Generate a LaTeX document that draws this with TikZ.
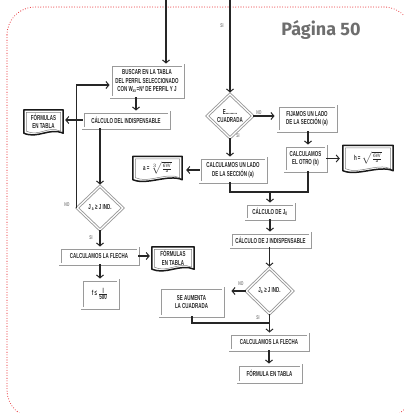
\documentclass[tikz,border=0pt]{standalone}
\usepackage{fontspec}
\usetikzlibrary{shapes.geometric,arrows.meta,calc}
\newfontfamily\cf{Liberation Sans Bold}[FakeStretch=0.62]
\newfontfamily\pf{Fira Sans}
\definecolor{dotred}{HTML}{E8353A}
\definecolor{boxgray}{HTML}{9A9A9A}
\definecolor{ink}{HTML}{262626}
\newcommand\docshape[1]{%
 \draw[docout] (#1.north west) -- (#1.north east) -- (#1.south east)
   .. controls +(-14,-6) and +(14,6) .. (#1.south west) -- cycle;
 \draw[docin] ([shift={(2.5,2.5)}]#1.north west) -- ([shift={(-2.5,2.5)}]#1.north east) -- ([shift={(-2.5,-2)}]#1.south east)
   .. controls +(-13,-6) and +(13,6) .. ([shift={(2.5,-2)}]#1.south west) -- cycle;}
\tikzset{
 box/.style={draw=boxgray, double=white, double distance=1.2pt, line width=0.9pt, inner sep=1pt, align=center,
   font=\cf\fontsize{7.2}{8.5}\selectfont, text=ink},
 dia/.style={box, diamond, inner sep=0pt},
 docn/.style={inner sep=1pt, align=center, font=\cf\fontsize{7.2}{8.5}\selectfont, text=ink},
 docout/.style={draw=black!90, line width=1.5pt, line join=round},
 docin/.style={draw=black!50, line width=0.5pt},
 arr/.style={draw=ink, line width=1.1pt, shorten >=1pt, -{Straight Barb[length=3pt,width=7pt,line width=1pt]}},
 conn/.style={draw=ink, line width=1.1pt},
 lbl/.style={font=\cf\fontsize{5.5}{5.5}\selectfont, text=black!50},
}
\begin{document}
\begin{tikzpicture}[x=1pt,y=-1pt]
\useasboundingbox (0,0) rectangle (404,413);
\clip (0,0) rectangle (404,413);
\draw[dotred, line width=1.1pt, dash pattern=on 0pt off 2.6pt, line cap=round, rounded corners=28pt] (7,7) rectangle (412,418);
\node[font=\pf\bfseries\fontsize{18}{18}\selectfont, text=black!57, anchor=base] (pg) at (321,35) {Página 50};
% left column
\node[box, minimum width=72pt, minimum height=32pt] (buscar) at (147,81) {BUSCAR EN LA TABLA\\DEL PERFIL SELECCIONADO\\CON W\textsubscript{xx}=Nº DE PERFIL Y J};
\node[box, minimum width=86pt, minimum height=16pt] (calcind) at (126,120) {CÁLCULO DEL INDISPENSABLE};
\node[docn, minimum width=39pt, minimum height=23pt] (form1) at (43.5,121.5) {FÓRMULAS\\EN TABLA};
\node[dia, minimum width=46pt, minimum height=44pt] (dL) at (100,208) {J\textsubscript{ a} ≥ J IND.};
\node[box, minimum width=78pt, minimum height=16pt] (flechaL) at (99,256) {CALCULAMOS LA FLECHA};
\node[docn, minimum width=42pt, minimum height=22pt] (form2) at (173,258) {FÓRMULAS\\EN TABLA};
\node[box, minimum width=36pt, minimum height=28pt] (fbox) at (100,294) {f ≤ $\frac{\hbox{\cf l}}{\hbox{\cf 500}}$};
% right column
\node[dia, minimum width=46pt, minimum height=44pt] (dE) at (230,116) {E.........\\CUADRADA};
\node[box, minimum width=58pt, minimum height=25pt] (fijamos) at (307,118.5) {FIJAMOS UN LADO\\DE LA SECCIÓN (a)};
\node[box, minimum width=41pt, minimum height=25pt] (otro) at (305.5,158.5) {CALCULAMOS\\EL OTRO (b)};
\node[docn, minimum width=50pt, minimum height=25pt] (hdoc) at (368,158) {h = $\sqrt{\frac{\mathsf{6W}}{\mathsf{a}}}$};
\node[box, minimum width=66pt, minimum height=24pt] (unlado) at (233,170) {CALCULAMOS UN LADO\\DE LA SECCIÓN (a)};
\node[docn, minimum width=49pt, minimum height=23pt] (adoc) at (157.5,168) {a = $\sqrt[3]{\frac{\mathsf{6W}}{\mathsf{a}}}$};
\node[box, minimum width=48pt, minimum height=15pt] (calcj0) at (270,211.5) {CÁLCULO DE J\textsubscript{0}};
\node[box, minimum width=79pt, minimum height=14pt] (calcjind) at (270.5,240) {CÁLCULO DE J INDISPENSABLE};
\node[dia, minimum width=47pt, minimum height=46pt] (dR) at (269.5,291) {J\textsubscript{a} ≥ J IND.};
\node[box, minimum width=63pt, minimum height=28pt] (aumenta) at (191.5,302) {SE AUMENTA\\LA CUADRADA};
\node[box, minimum width=78pt, minimum height=16pt] (flechaR) at (269,342) {CALCULAMOS LA FLECHA};
\node[box, minimum width=63pt, minimum height=17pt] (formtab) at (269.5,373.5) {FÓRMULA EN TABLA};
\docshape{form1}
\docshape{form2}
\docshape{hdoc}
\docshape{adoc}
% connectors
\coordinate (t1) at (166,0);
\coordinate (t2) at (230,0);
\coordinate (c136) at (136,0);
\coordinate (lp) at (0,85);
\coordinate (c308) at (308,0);
\coordinate (m) at (0,192);
\coordinate (c192) at (192,323);
\draw[arr] (t1) -- (t1 |- buscar.north);
\draw[arr] (t2) -- (dE.north);
\node[lbl] at (222,26) {SI};
\draw[arr] (c136 |- buscar.south) -- (c136 |- calcind.north);
\draw[arr, shorten >=2pt] (calcind.west) -- (calcind.west -| form1.east);
\draw[arr] (dL.north |- calcind.south) -- (dL.north);
\draw[arr] (dL.west) |- (lp -| buscar.west);
\node[lbl] at (67,205) {NO};
\draw[arr] (dL.south) -- (dL.south |- flechaL.north);
\node[lbl] at (91,238) {SI};
\draw[arr, shorten >=2pt] (flechaL.east) -- (flechaL.east -| form2.west);
\draw[arr] (fbox.north |- flechaL.south) -- (fbox.north);
\draw[arr, shorten >=3pt] (dE.east) -- (dE.east -| fijamos.west);
\node[lbl] at (259,113) {NO};
\draw[arr] (c308 |- fijamos.south) -- (c308 |- otro.north);
\draw[arr, shorten >=3pt] (otro.east) -- (otro.east -| hdoc.west);
\draw[arr] (dE.south) -- (dE.south |- unlado.north);
\node[lbl] at (238,136) {SI};
\draw[arr, shorten >=4pt] (unlado.west) -- (unlado.west -| adoc.east);
\draw[conn] (dE.south |- unlado.south) -- (dE.south |- m) -| (c308 |- otro.south);
\draw[arr] (calcj0.north |- m) -- (calcj0.north);
\draw[arr] (calcj0.south) -- (calcj0.south |- calcjind.north);
\draw[arr] (dR.north |- calcjind.south) -- (dR.north);
\draw[arr, shorten >=8pt] (dR.west) -- (dR.west -| aumenta.east);
\node[lbl] at (241,284) {NO};
\draw[conn] (c192 |- aumenta.south) -- (c192) -- (c192 -| dR.south);
\draw[arr] (dR.south) -- (dR.south |- flechaR.north);
\node[lbl] at (258,318) {SI};
\draw[arr] (flechaR.south) -- (flechaR.south |- formtab.north);
\end{tikzpicture}
\end{document}
